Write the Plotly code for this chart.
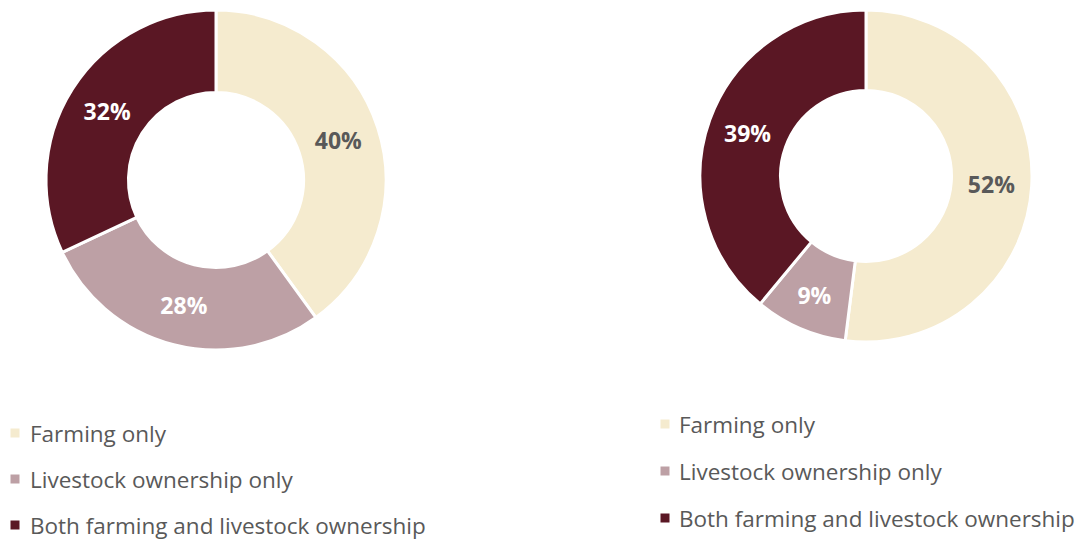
import plotly.graph_objects as go

# Household activity categories and shares (%) for the two groups
categories = ["Farming only", "Livestock ownership only", "Both farming and livestock ownership"]
left_shares = [40, 28, 32]
right_shares = [52, 9, 39]

colors = ["#F5EBCF", "#BDA0A5", "#5A1724"]
label_colors = ["#595959", "#FFFFFF", "#FFFFFF"]

W, H = 1081, 540
FONT = "Open Sans"


def px_x(x):
    return x / W


def px_y(y):
    return 1 - y / H


def donut(values, domain_x, domain_y):
    return go.Pie(
        labels=categories,
        values=values,
        hole=0.515,
        sort=False,
        direction="clockwise",
        rotation=0,
        marker=dict(colors=colors, line=dict(color="white", width=3)),
        texttemplate="<b>%{value}%</b>",
        textposition="inside",
        insidetextorientation="horizontal",
        textfont=dict(family=FONT, size=23, color=label_colors),
        showlegend=False,
        hoverinfo="label+percent",
        domain=dict(x=domain_x, y=domain_y),
    )


fig = go.Figure()
fig.add_trace(donut(left_shares, [px_x(46), px_x(386)], [px_y(350), px_y(10)]))
fig.add_trace(donut(right_shares, [px_x(700), px_x(1032)], [px_y(342), px_y(10)]))

# Legends drawn under each donut
legend_blocks = [
    dict(marker_x=15, text_x=28, rows_y=[433, 479, 525]),
    dict(marker_x=665, text_x=677, rows_y=[424, 471, 518]),
]
half = 4.5
for block in legend_blocks:
    for name, color, y in zip(categories, colors, block["rows_y"]):
        fig.add_shape(
            type="rect",
            xref="paper", yref="paper",
            x0=px_x(block["marker_x"] - half), x1=px_x(block["marker_x"] + half),
            y0=px_y(y + half), y1=px_y(y - half),
            fillcolor=color, line=dict(width=0),
        )
        fig.add_annotation(
            text=name,
            xref="paper", yref="paper",
            x=px_x(block["text_x"]), y=px_y(y),
            xanchor="left", yanchor="middle",
            showarrow=False,
            font=dict(family=FONT, size=22.5, color="#595959"),
        )

fig.update_layout(
    width=W, height=H,
    margin=dict(l=0, r=0, t=0, b=0),
    paper_bgcolor="white",
    plot_bgcolor="white",
)

fig.write_html("out.html", config={"displayModeBar": False})
